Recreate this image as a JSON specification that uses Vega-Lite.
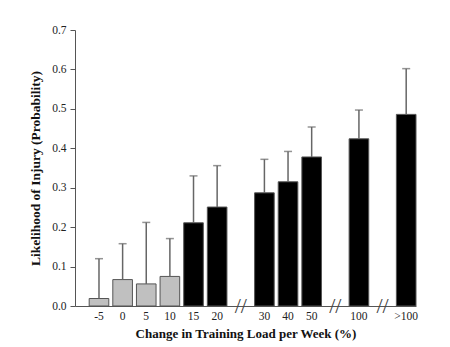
{
  "$schema": "https://vega.github.io/schema/vega-lite/v6.json",
  "width": 341,
  "height": 276,
  "autosize": {"type": "none"},
  "padding": {"left": 75, "top": 30, "right": 34, "bottom": 41},
  "background": "white",
  "config": {
    "view": {"stroke": null},
    "font": "Liberation Serif",
    "axis": {"grid": false, "domainColor": "#555", "tickColor": "#555", "labelColor": "#222", "titleColor": "#111", "labelFont": "Liberation Serif", "titleFont": "Liberation Serif"}
  },
  "datasets": {
    "bars": [
      {"k": "-5", "v": 0.019, "u": 0.120, "g": "low"},
      {"k": "0", "v": 0.067, "u": 0.158, "g": "low"},
      {"k": "5", "v": 0.056, "u": 0.212, "g": "low"},
      {"k": "10", "v": 0.075, "u": 0.171, "g": "low"},
      {"k": "15", "v": 0.211, "u": 0.330, "g": "high"},
      {"k": "20", "v": 0.251, "u": 0.356, "g": "high"},
      {"k": "30", "v": 0.287, "u": 0.372, "g": "high"},
      {"k": "40", "v": 0.315, "u": 0.392, "g": "high"},
      {"k": "50", "v": 0.378, "u": 0.454, "g": "high"},
      {"k": "100", "v": 0.424, "u": 0.497, "g": "high"},
      {"k": ">100", "v": 0.486, "u": 0.602, "g": "high"}
    ],
    "breaks": [
      {"k": "b1", "v": 0},
      {"k": "b2", "v": 0},
      {"k": "b3", "v": 0}
    ]
  },
  "encoding": {
    "x": {
      "field": "k", "type": "nominal",
      "scale": {"type": "band", "domain": ["-5", "0", "5", "10", "15", "20", "b1", "30", "40", "50", "b2", "100", "b3", ">100"], "paddingInner": 0.17, "paddingOuter": 0.3, "align": 1},
      "sort": null,
      "axis": {
        "title": "Change in Training Load per Week (%)",
        "titleFontSize": 13, "titleFontWeight": "bold", "titlePadding": 6,
        "labelFontSize": 11.5, "labelAngle": 0, "ticks": false, "labelPadding": 4,
        "labelExpr": "indexof(['b1','b2','b3'], datum.value) >= 0 ? '' : datum.value",
        "domainColor": "#555"
      }
    },
    "y": {
      "field": "v", "type": "quantitative",
      "scale": {"domain": [0, 0.7], "nice": false, "zero": true},
      "axis": {
        "title": "Likelihood of Injury (Probability)",
        "titleFontSize": 13.5, "titleFontWeight": "bold", "titlePadding": 9,
        "labelFontSize": 11.5, "values": [0, 0.1, 0.2, 0.3, 0.4, 0.5, 0.6, 0.7], "tickCount": 8, "format": ".1f",
        "labelOverlap": false, "tickSize": 5, "labelPadding": 4
      }
    }
  },
  "layer": [
    {
      "data": {"name": "bars"},
      "mark": {"type": "bar", "stroke": "#555", "strokeWidth": 1},
      "encoding": {
        "color": {
          "field": "g", "type": "nominal",
          "scale": {"domain": ["low", "high"], "range": ["#c0c0c0", "#000000"]},
          "legend": null
        }
      }
    },
    {
      "data": {"name": "bars"},
      "mark": {"type": "rule", "color": "#666", "strokeWidth": 1.5},
      "encoding": {
        "y2": {"field": "u"}
      }
    },
    {
      "data": {"name": "bars"},
      "mark": {"type": "tick", "color": "#666", "size": 8, "thickness": 1.5},
      "encoding": {
        "y": {"field": "u", "type": "quantitative"}
      }
    },
    {
      "data": {"name": "breaks"},
      "mark": {"type": "text", "text": "//", "font": "Liberation Serif", "fontSize": 22, "color": "#444", "baseline": "middle", "align": "center", "dy": 0}
    }
  ]
}
